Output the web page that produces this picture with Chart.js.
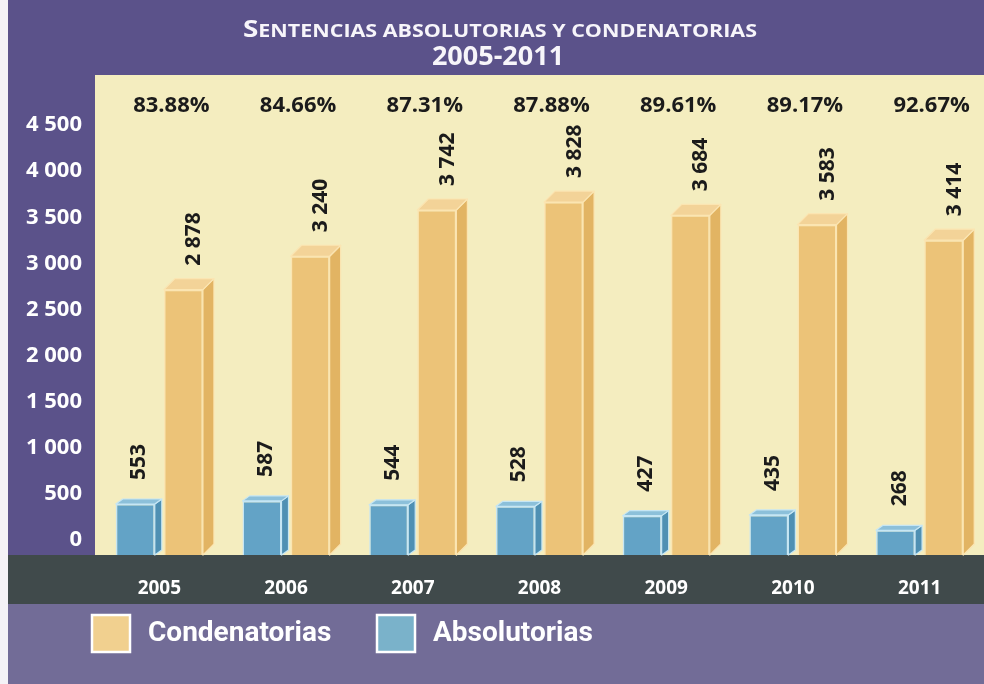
<!DOCTYPE html>
<html>
<head>
<meta charset="utf-8">
<script src="https://cdn.jsdelivr.net/npm/chart.js@4.4.1/dist/chart.umd.min.js"></script>
<style>
  html, body { margin: 0; padding: 0; background: #5b528a; }
  #wrap { width: 984px; height: 684px; position: relative; }
  canvas { display: block; }
</style>
</head>
<body>
<div id="wrap"><canvas id="c" width="984" height="684"></canvas></div>
<script>
// ---------- DATA ----------
const years = ['2005', '2006', '2007', '2008', '2009', '2010', '2011'];
const absolutorias = [553, 587, 544, 528, 427, 435, 268];
const condenatorias = [2878, 3240, 3742, 3828, 3684, 3583, 3414];
const percentages = ['83.88%', '84.66%', '87.31%', '87.88%', '89.61%', '89.17%', '92.67%'];
const yTickValues = [0, 500, 1000, 1500, 2000, 2500, 3000, 3500, 4000, 4500];
const titleLine1 = 'Sentencias absolutorias y condenatorias';
const titleLine2 = '2005-2011';
const seriesNames = ['Absolutorias', 'Condenatorias'];

// ---------- STYLE ----------
const C = {
  purple: '#5b528a',
  legendBg: '#726c97',
  cream: '#f4edbf',
  band: '#404a4b',
  blue: '#63a3c6', blueSide: '#4f90b3', blueTop: '#8cc0da', blueEdge: '#c6e6f4',
  orange: '#ecc378', orangeSide: '#e2b463', orangeTop: '#f3d398', orangeEdge: '#fbe5b2',
  legendOrange: '#f1d08f', legendBlue: '#7ab2ca'
};
const FONT = '"Open Sans", "Noto Sans", sans-serif';
const NARROW = '"Liberation Sans Narrow", "Roboto", "Open Sans", sans-serif';
const fmt = v => String(v).replace(/\B(?=(\d{3})+(?!\d))/g, ' ');

const backdrop = {
  id: 'backdrop',
  beforeDraw(chart) {
    const ctx = chart.ctx, a = chart.chartArea;
    ctx.save();
    ctx.fillStyle = C.purple; ctx.fillRect(0, 0, 984, 684);
    ctx.fillStyle = C.cream; ctx.fillRect(a.left - 1, a.top, 984 - a.left + 1, a.bottom - a.top);
    ctx.fillStyle = C.band; ctx.fillRect(8, a.bottom, 976, 49);
    ctx.fillStyle = C.legendBg; ctx.fillRect(8, a.bottom + 49, 976, 684 - a.bottom - 49);
    ctx.fillStyle = '#f4f2f6'; ctx.fillRect(0, 0, 8, 684);
    ctx.restore();
  }
};

const bars3d = {
  id: 'bars3d',
  afterDatasetsDraw(chart) {
    const ctx = chart.ctx;
    chart.data.datasets.forEach((ds, di) => {
      const meta = chart.getDatasetMeta(di);
      const d = di === 0 ? 7 : 11, dy = di === 0 ? 5 : 11;
      const side = di === 0 ? C.blueSide : C.orangeSide;
      const top = di === 0 ? C.blueTop : C.orangeTop;
      const edge = di === 0 ? C.blueEdge : C.orangeEdge;
      meta.data.forEach(bar => {
        const p = bar.getProps(['x', 'y', 'base', 'width'], true);
        const l = p.x - p.width / 2, r = p.x + p.width / 2;
        ctx.save();
        ctx.lineWidth = 1.2; ctx.strokeStyle = edge; ctx.lineJoin = 'round';
        ctx.beginPath();
        ctx.moveTo(r, p.y); ctx.lineTo(r + d, p.y - dy);
        ctx.lineTo(r + d, p.base - dy); ctx.lineTo(r, p.base); ctx.closePath();
        ctx.fillStyle = side; ctx.fill(); ctx.stroke();
        ctx.beginPath();
        ctx.moveTo(l, p.y); ctx.lineTo(l + d, p.y - dy);
        ctx.lineTo(r + d, p.y - dy); ctx.lineTo(r, p.y); ctx.closePath();
        ctx.fillStyle = top; ctx.fill(); ctx.stroke();
        ctx.restore();
      });
    });
  }
};

const labels = {
  id: 'labels',
  afterDraw(chart) {
    const ctx = chart.ctx, x = chart.scales.x;
    ctx.save();
    ctx.fillStyle = '#1b1b1b';
    ctx.font = 'bold 21px ' + FONT;
    ctx.textAlign = 'left'; ctx.textBaseline = 'middle';
    chart.data.datasets.forEach((ds, di) => {
      const meta = chart.getDatasetMeta(di);
      meta.data.forEach((bar, i) => {
        const p = bar.getProps(['x', 'y'], true);
        ctx.save();
        ctx.translate(p.x + (di === 0 ? 4 : 11), p.y - 24);
        ctx.rotate(-Math.PI / 2);
        ctx.fillText(fmt(ds.data[i]), 0, 0);
        ctx.restore();
      });
    });
    ctx.font = 'bold 22px ' + FONT;
    ctx.textAlign = 'center';
    percentages.forEach((t, i) => {
      ctx.fillText(t, x.getPixelForValue(i) + 12, 106);
    });
    // title line 1 in small caps
    ctx.fillStyle = '#f7f5fa';
    const big = 24, small = 18.5;
    const parts = [];
    for (const ch of titleLine1) {
      const up = ch === ch.toUpperCase() && ch !== ' ';
      parts.push({ t: ch.toUpperCase(), f: 'bold ' + (up ? big : small) + 'px ' + FONT });
    }
    let total = 0;
    parts.forEach(pt => { ctx.font = pt.f; pt.w = ctx.measureText(pt.t).width; total += pt.w; });
    const target = 514, sc = target / total;
    ctx.textAlign = 'left'; ctx.textBaseline = 'alphabetic';
    ctx.save();
    ctx.translate(500 - target / 2, 37);
    ctx.scale(sc, 1);
    let off = 0;
    parts.forEach(pt => { ctx.font = pt.f; ctx.fillText(pt.t, off, 0); off += pt.w; });
    ctx.restore();
    ctx.font = 'bold 27px ' + FONT;
    ctx.textAlign = 'center';
    ctx.fillText(titleLine2, 498, 65);
    // legend
    const items = [
      { name: chart.data.datasets[1].label, color: C.legendOrange, bx: 92, tx: 148 },
      { name: chart.data.datasets[0].label, color: C.legendBlue, bx: 377, tx: 433 }
    ];
    items.forEach(it => {
      ctx.fillStyle = it.color;
      ctx.fillRect(it.bx, 615, 38, 37);
      ctx.strokeStyle = '#ffffff'; ctx.lineWidth = 2.5;
      ctx.strokeRect(it.bx, 615, 38, 37);
      ctx.fillStyle = '#ffffff';
      ctx.font = 'bold 28px ' + NARROW;
      ctx.textAlign = 'left'; ctx.textBaseline = 'middle';
      ctx.fillText(it.name, it.tx, 634);
    });
    ctx.restore();
  }
};

new Chart(document.getElementById('c'), {
  type: 'bar',
  data: {
    labels: years,
    datasets: [
      { label: seriesNames[0], data: absolutorias, backgroundColor: C.blue, borderColor: C.blueEdge, borderWidth: 1.5 },
      { label: seriesNames[1], data: condenatorias, backgroundColor: C.orange, borderColor: C.orangeEdge, borderWidth: 1.5 }
    ]
  },
  options: {
    responsive: false,
    animation: false,
    devicePixelRatio: 1,
    categoryPercentage: 0.76,
    barPercentage: 0.81,
    layout: { padding: { left: 8, top: 75, right: 1, bottom: 80 } },
    plugins: { legend: { display: false }, title: { display: false }, tooltip: { enabled: false } },
    scales: {
      x: {
        grid: { display: false }, border: { display: false },
        ticks: { color: '#ffffff', font: { family: FONT, size: 19, weight: 'bold' }, padding: 14 },
        afterFit(s) { s.height = 49; }
      },
      y: {
        min: 0, max: 5206,
        grid: { display: false, drawTicks: false }, border: { display: false },
        afterBuildTicks(s) { s.ticks = yTickValues.map(v => ({ value: v })); },
        ticks: {
          color: '#ffffff', font: { family: FONT, size: 22, weight: 'bold' },
          padding: 14, labelOffset: -15,
          callback: v => fmt(v)
        },
        afterFit(s) { s.width = 88; }
      }
    }
  },
  plugins: [backdrop, bars3d, labels]
});
</script>
</body>
</html>
